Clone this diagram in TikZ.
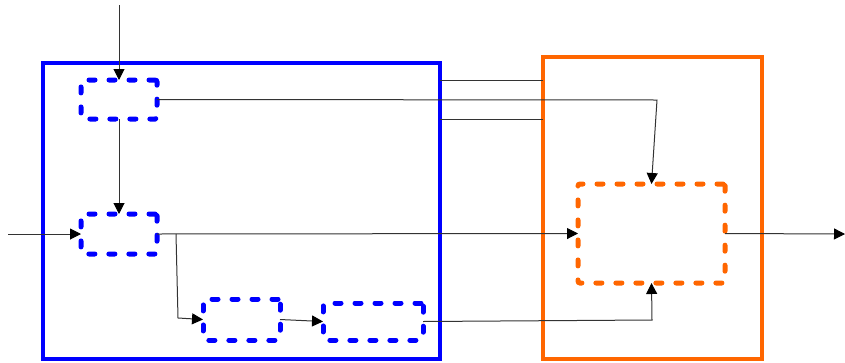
\documentclass[tikz,border=0pt]{standalone}
\usetikzlibrary{arrows.meta}
\begin{document}
\begin{tikzpicture}[x=1pt,y=-1pt,
  bigbox/.style={draw, line width=4pt, inner sep=0pt, outer sep=0pt},
  dbox/.style={draw, line width=5pt, dash pattern=on 6pt off 14pt, line cap=round, rounded corners=2pt, inner sep=0pt, outer sep=0pt},
  conn/.style={draw=black!80, line width=1pt, -{Triangle[length=11pt,width=11pt,fill=black,color=black]}},
  plain/.style={draw=black!80, line width=1pt}]
\useasboundingbox (0,0) rectangle (845,362);
% big boxes
\node[bigbox, draw=blue, minimum width=397pt, minimum height=296pt] (B) at (241.5,211) {};
\node[bigbox, draw={rgb,255:red,255;green,102;blue,0}, minimum width=219pt, minimum height=302pt] (O) at (652.5,208) {};
% dashed boxes
\node[dbox, draw=blue, minimum width=76pt, minimum height=39pt] (b1) at (119,99.5) {};
\node[dbox, draw=blue, minimum width=76pt, minimum height=40pt] (b2) at (119,234) {};
\node[dbox, draw=blue, minimum width=77pt, minimum height=41pt] (b3) at (241.5,319.5) {};
\node[dbox, draw=blue, minimum width=100pt, minimum height=37pt] (b4) at (373,321.5) {};
\node[dbox, draw={rgb,255:red,255;green,102;blue,0}, minimum width=147pt, minimum height=99pt] (od) at (651.5,233.5) {};
% free ends
\coordinate (top) at (119,5);
\coordinate (left) at (8,234);
\coordinate (right) at (845,234);
\coordinate (c1) at (657,100);
\coordinate (c2) at (176,234);
\coordinate (c3) at (178,318);
\coordinate (c4) at (652,320);
% connectors
\draw[conn] (top) -- (b1.north);
\draw[conn] (b1.south) -- (b2.north);
\draw[conn] (left) -- (b2.west);
\draw[conn] (b2.east) -- (od.west);
\draw[conn] (c2) -- (c3) -- (b3.west);
\draw[conn] (b3.east) -- (b4.west);
\draw[conn] (b4.east) -- (c4) -- (od.south);
\draw[conn] (b1.east) -- (c1) -- (od.north);
\draw[conn] (od.east) -- (right);
\draw[plain] (B.east |- b1.north) -- (O.west |- b1.north);
\draw[plain] (B.east |- b1.south) -- (O.west |- b1.south);
\end{tikzpicture}
\end{document}
